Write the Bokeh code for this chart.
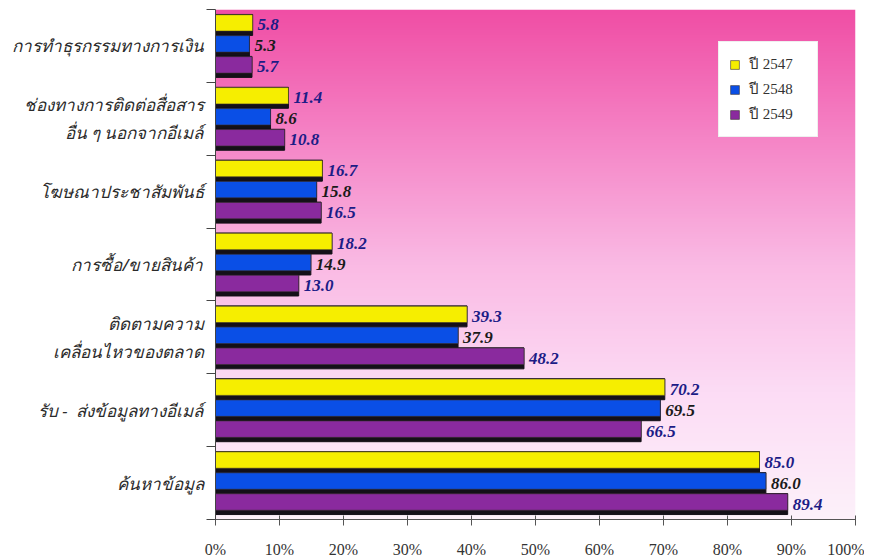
import numpy as np
from bokeh.plotting import figure
from bokeh.models import (ColumnDataSource, FixedTicker, Legend, LegendItem,
                          Range1d, PrintfTickFormatter)
from bokeh.embed import file_html
from bokeh.resources import INLINE

# ---------------- data (bottom to top) ----------------
categories = [
    "ค้นหาข้อมูล",
    "รับ -\u00a0\u00a0ส่งข้อมูลทางอีเมล์",
    "ติดตามความ\nเคลื่อนไหวของตลาด",
    "การซื้อ/ขายสินค้า",
    "โฆษณาประชาสัมพันธ์",
    "ช่องทางการติดต่อสื่อสาร\nอื่น ๆ นอกจากอีเมล์",
    "การทำธุรกรรมทางการเงิน",
]
series_names = ["ปี 2547", "ปี 2548", "ปี 2549"]
y2547 = [85.0, 70.2, 39.3, 18.2, 16.7, 11.4, 5.8]
y2548 = [86.0, 69.5, 37.9, 14.9, 15.8, 8.6, 5.3]
y2549 = [89.4, 66.5, 48.2, 13.0, 16.5, 10.8, 5.7]
x_ticks = [0, 10, 20, 30, 40, 50, 60, 70, 80, 90, 100]

series_values = [y2547, y2548, y2549]
bar_colors = ["#f6ee00", "#0a4fe6", "#8a2a9e"]
text_colors = ["#1c1c86", "#1a1a1a", "#1c1c86"]
offsets = [0.288, 0.0, -0.288]

n = len(categories)
p = figure(frame_width=640, frame_height=510, output_backend="svg",
           toolbar_location=None,
           x_range=Range1d(0, 100), y_range=Range1d(0, n),
           min_border_left=215, min_border_right=9, min_border_top=9,
           min_border_bottom=0)
p.background_fill_color = "white"
p.border_fill_color = "white"
p.outline_line_color = None
p.grid.visible = False

# background gradient inside the frame (vertical pink -> white)
H, W = 200, 2
t = np.linspace(0, 1, H)
kt = [0.0, 0.25, 0.5, 0.75, 1.0]
kr = [253, 252, 250, 245, 240]
kg = [241, 220, 186, 132, 78]
kb = [250, 245, 228, 198, 165]
r = np.interp(t, kt, kr).astype(np.uint32)
g = np.interp(t, kt, kg).astype(np.uint32)
b = np.interp(t, kt, kb).astype(np.uint32)
col = (255 << 24) | (b << 16) | (g << 8) | r
img = np.repeat(col[:, None], W, axis=1).astype(np.uint32)
p.image_rgba(image=[img], x=0, y=0, dw=100, dh=n)

centers = [i + 0.5 for i in range(n)]
legend_items = []
for k in range(3):
    ys = [c + offsets[k] for c in centers]
    src = ColumnDataSource(dict(y=ys, ys=[v + 0.028 for v in ys],
                                v=series_values[k],
                                lab=["%.1f" % v for v in series_values[k]]))
    p.hbar(y="y", right="v", left=0, height=0.288, source=src,
           fill_color="#141018", line_color="#141018", line_width=1)
    rr = p.hbar(y="ys", right="v", left=0, height=0.225, source=src,
                fill_color=bar_colors[k], line_color="#3a3030", line_width=0.6)
    p.text(x="v", y="y", text="lab", source=src, x_offset=5,
           text_align="left", text_baseline="middle",
           text_font_size="17px", text_font_style="bold italic",
           text_color=text_colors[k], text_font={"value": "Liberation Serif"})
    legend_items.append(LegendItem(label=series_names[k], renderers=[rr]))

legend = Legend(items=legend_items, location=(503, 382))
legend.background_fill_color = "white"
legend.background_fill_alpha = 1.0
legend.border_line_color = "#e0e0e0"
legend.label_text_font = "Liberation Serif"
legend.label_text_font_size = "15px"
legend.label_text_color = "#333333"
legend.glyph_width = 11
legend.glyph_height = 11
legend.label_standoff = 9
legend.label_width = 58
legend.spacing = 1
legend.padding = 10
legend.label_height = 18
legend.margin = 0
p.add_layout(legend)

# y axis: labels at centers, ticks at boundaries
ya = p.yaxis[0]
ya.ticker = FixedTicker(ticks=centers, minor_ticks=list(range(n + 1)))
ya.major_label_overrides = {c: categories[i] for i, c in enumerate(centers)}
ya.major_tick_line_color = None
ya.minor_tick_line_color = "#444444"
ya.minor_tick_out = 9
ya.minor_tick_in = 0
ya.axis_line_color = "#444444"
ya.major_label_text_font = "Noto Sans"
ya.major_label_text_font_style = "italic"
ya.major_label_text_font_size = "17px"
ya.major_label_text_color = "#2a2a2a"
ya.major_label_standoff = 3

xa = p.xaxis[0]
xa.ticker = FixedTicker(ticks=x_ticks)
xa.formatter = PrintfTickFormatter(format="%d%%")
xa.minor_tick_line_color = None
xa.major_tick_in = 4
xa.major_tick_out = 6
xa.major_tick_line_color = "#555555"
xa.axis_line_color = "#555555"
xa.major_label_text_font = "Liberation Serif"
xa.major_label_text_font_size = "16px"
xa.major_label_text_color = "#333333"
xa.major_label_standoff = 15

open("out.html", "w").write(file_html(p, INLINE))
